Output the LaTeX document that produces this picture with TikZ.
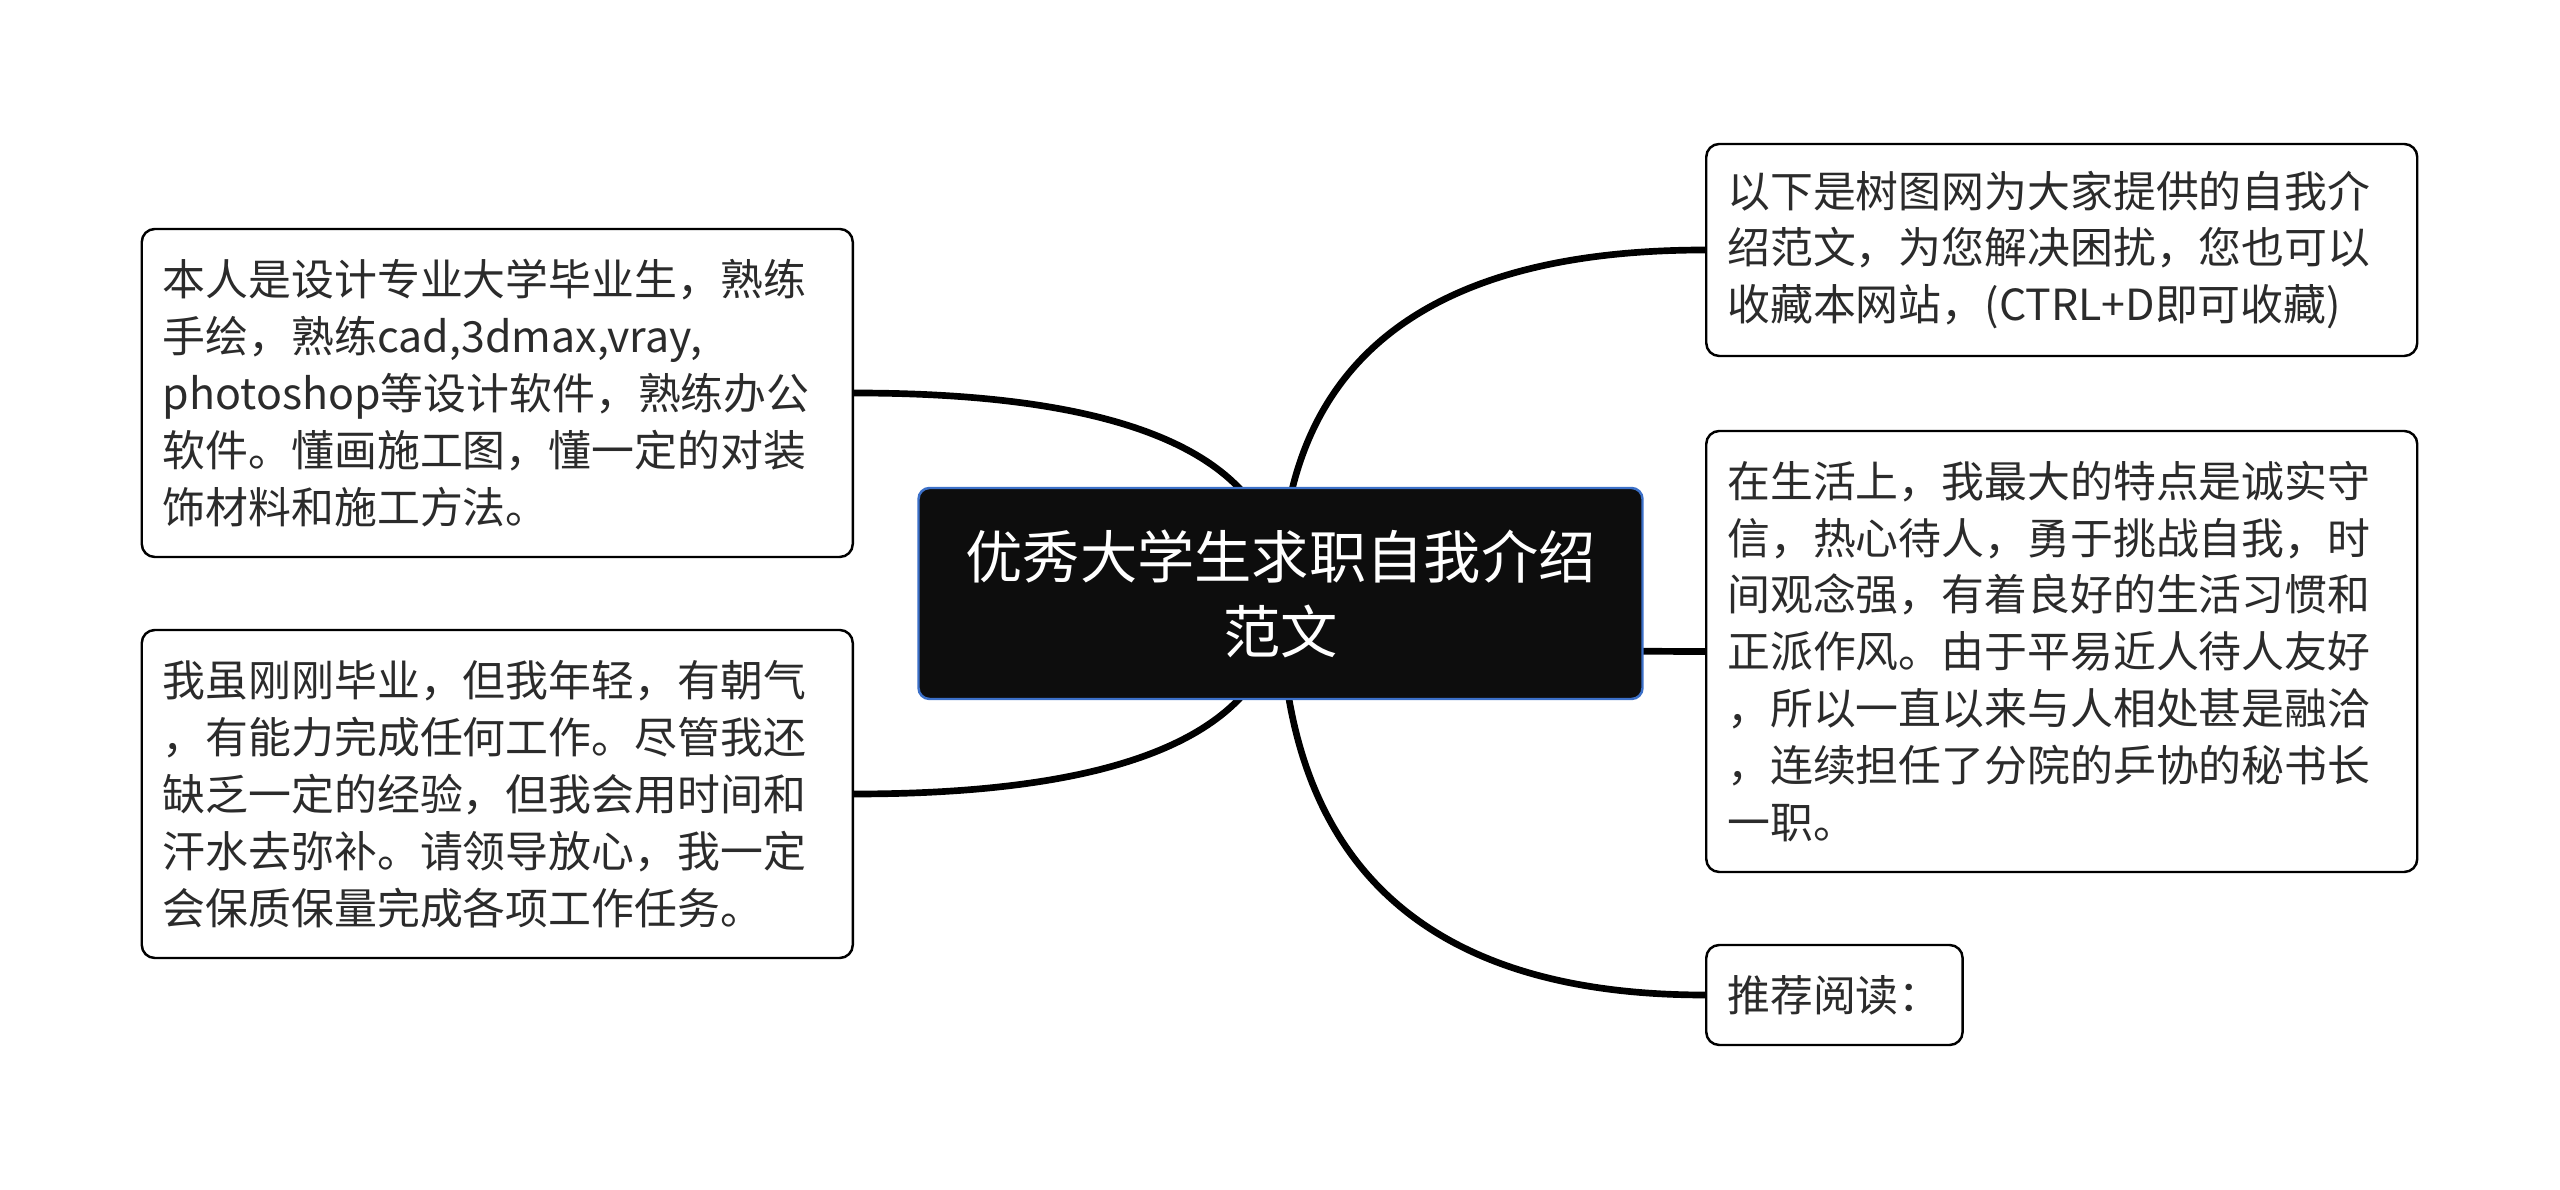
\documentclass[tikz,border=0pt]{standalone}
\usepackage{fontspec}
\newfontfamily\cjkfont{Noto Sans CJK SC}
\usetikzlibrary{backgrounds, calc}
\definecolor{titlefill}{HTML}{0D0D0D}
\definecolor{titleedge}{HTML}{3C70C8}
\definecolor{inkgray}{HTML}{2B2B2B}

\tikzset{
  topic/.style={draw=black, line width=0.7pt, rounded corners=0.13cm, fill=white,
    text=inkgray, font=\cjkfont\fontsize{12.2}{16.2}\selectfont,
    align=left, inner xsep=0.21cm, inner ysep=0.2cm},
  root/.style={draw=titleedge, line width=0.7pt, rounded corners=0.11cm, fill=titlefill,
    text=white, font=\cjkfont\fontsize{16.3}{21.3}\selectfont, align=center,
    minimum width=7.24cm, minimum height=2.11cm},
  branch/.style={line width=1.9pt, black}
}

\begin{document}
\begin{tikzpicture}
        \useasboundingbox (0,0) rectangle (25.6,11.89);
        \node[root] (title) at (12.805, 5.955) {优秀大学生求职自我介绍\\范文};
        % left side
        \node[topic, anchor=east, text width=6.69cm, minimum height=3.28cm]
          (intro) at (8.54, 7.96) {本人是设计专业大学毕业生，熟练\\手绘，熟练cad,3dmax,vray,\\photoshop等设计软件，熟练办公\\软件。懂画施工图，懂一定的对装\\饰材料和施工方法。};
        \node[topic, anchor=east, text width=6.69cm, minimum height=3.28cm]
          (young) at (8.54, 3.95) {我虽刚刚毕业，但我年轻，有朝气\\，有能力完成任何工作。尽管我还\\缺乏一定的经验，但我会用时间和\\汗水去弥补。请领导放心，我一定\\会保质保量完成各项工作任务。};
        % right side
        \node[topic, anchor=west, text width=6.69cm, minimum height=2.12cm]
          (site) at (17.05, 9.39) {以下是树图网为大家提供的自我介\\绍范文，为您解决困扰，您也可以\\收藏本网站，(CTRL+D即可收藏)};
        \node[topic, anchor=west, text width=6.69cm, minimum height=4.41cm]
          (life) at (17.05, 5.375) {在生活上，我最大的特点是诚实守\\信，热心待人，勇于挑战自我，时\\间观念强，有着良好的生活习惯和\\正派作风。由于平易近人待人友好\\，所以一直以来与人相处甚是融洽\\，连续担任了分院的乒协的秘书长\\一职。};
        \node[topic, anchor=west, minimum height=1.0cm]
          (more) at (17.05, 1.94) {推荐阅读：};
        % branches, behind the boxes (quadratic bend, written as a cubic)
        \begin{pgfonlayer}{background}
          \fill[white] (0,0) rectangle (25.6,11.89);
          \foreach \leaf/\side in {intro/east, young/east, site/west, life/west, more/west}
            \draw[branch] (title.center)
              .. controls ($(title.center)!2/3!(title.center |- \leaf.\side)$)
                 and ($(\leaf.\side)!2/3!(title.center |- \leaf.\side)$) .. (\leaf.\side);
        \end{pgfonlayer}
\end{tikzpicture}
\end{document}
